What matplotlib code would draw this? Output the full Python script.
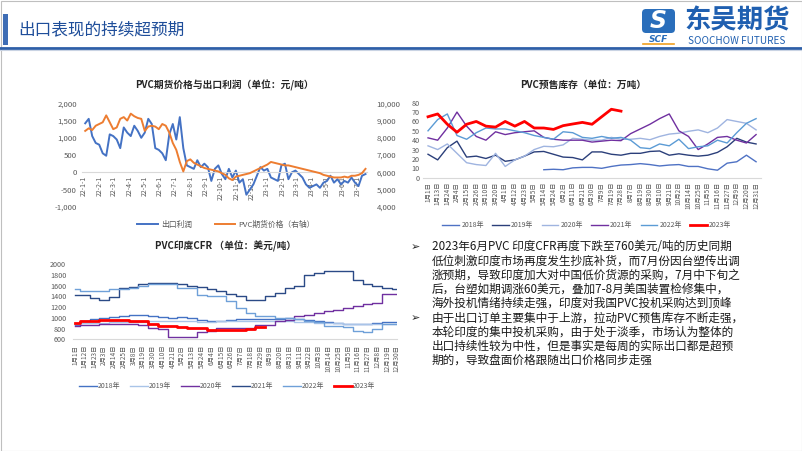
import numpy as np
import pandas as pd
import matplotlib
matplotlib.use('Agg')
import matplotlib.pyplot as plt
from matplotlib.ticker import FuncFormatter
from matplotlib.patches import Rectangle, FancyBboxPatch

plt.rcParams['font.family'] = ['Noto Sans CJK SC', 'DejaVu Sans']
plt.rcParams['axes.unicode_minus'] = False

# ---------------- data ----------------
# Chart 1: weekly, from 2022-01-03
profit = [1420, 1550, 1050, 850, 800, 550, 480, 1100, 1050, 950,
          700, 1300, 1150, 1050, 1350, 1200, 1000, 1150, 1550, 1400,
          700, 650, 550, 350, 1100, 1400, 950, 1600, 700, 200,
          150, 100, 350, 150, 250, 150, -250, 100, 200, -50,
          -200, 100, -150, 50, -300, -200, -650, -500, -350, -100,
          150, 50, 100, -150, -200, -250, 200, 250, -200, 0,
          50, -50, -150, -350, -450, -400, -350, -450, -300, -250,
          -100, -300, -200, -350, -250, -300, -150, -300, -400, -100, -50]
futures = [8400, 8550, 8450, 8700, 8800, 8900, 9300, 8900, 8500, 8600,
           9100, 9200, 9000, 9400, 9250, 9150, 9100, 8400, 8650, 8700,
           8650, 8500, 8800, 8700, 8300, 7700, 7300, 6600, 6050, 6650,
           6750, 6550, 6450, 6350, 6250, 6200, 6150, 6100, 6050, 5950,
           5850, 5650, 5550, 5750, 5800, 5850, 5900, 5950, 6050, 6150,
           6250, 6350, 6450, 6600, 6550, 6500, 6450, 6400, 6400, 6350,
           6300, 6250, 6200, 6150, 6100, 6050, 6000, 5950, 5850, 5800,
           5750, 5700, 5700, 5700, 5750, 5700, 5800, 5800, 5850, 5950, 6200]
weeks = pd.date_range('2022-01-03', periods=len(profit), freq='7D')
month_ticks = pd.date_range('2022-01-01', '2023-07-01', freq='MS')
month_labels = [f"{d.year % 100}-{d.month}-1" for d in month_ticks]

# Chart 2: PVC presale inventory (10k t)
inv_labels = ['1月1日', '1月13日', '1月24日', '2月4日', '2月15日', '2月26日', '3月10日', '3月20日',
              '4月1日', '4月12日', '4月23日', '5月5日', '5月14日', '5月24日', '6月2日', '6月11日',
              '6月21日', '6月30日', '7月9日', '7月19日', '7月28日', '8月7日', '8月19日', '8月30日',
              '9月10日', '9月21日', '10月2日', '10月14日', '10月25日', '11月5日', '11月16日',
              '11月27日', '12月9日', '12月20日', '12月31日']
nan = np.nan
inv2018 = [nan] * 12 + [8.5, 9, 8.5, 10.5, 11, 11, 10, 12, 13.5, 14, 15, 14, 12.5, 13.5, 14, 12,
                        12, 9.5, 8, 15.5, 17, 24, 17]
inv2019 = [25, 19, 32, 39, 22, 23, 20.5, 24, 17.5, 19, 23, 27.5, 28, 25, 22, 21.5, 19, 27.5,
           27.5, 25, 24, 26, 26, 28, 28.5, 24, 25.5, 24, 23, 24, 27, 33, 42, 38, 36]
inv2020 = [34, 30, 36, 26, 16, 14, 13, 26, 12, 19, 23, 30, 33.5, 33, 35, 42, 41, 40, 40, 43,
           41, 41, 42, 40.5, 44, 46.5, 47.5, 49.5, 51, 48, 53, 62, 60, 58, 51]
inv2021 = [42.5, 40, 53, 70, 55, 44, 40, 49, 46, 48, 49, 50, 43, 41, 40, 40, 40, 38, 39, 40,
           39.5, 47, 52, 57, 63, 68, 50, 44, 30, 36, 43, 44, 40, 37, 46]
inv2022 = [50, 62, 68, 45, 41, 48, 53, 52, 52, 50, 48, 45, 43, 41, 49, 48, 43, 42, 44, 42,
           43, 40, 32, 31, 36, 34, 41, 31, 33, 34, 40, 37, 48, 58, 63]
inv2023 = [65, 68, 57, 48.5, 57, 60, 55, 54, 60, 55, 60, 53, 53, 51.5, 55.5, 57.3, 59, 57,
           65, 73, 71] + [nan] * 14

# Chart 3: PVC India CFR (USD/t)
cfr_labels = ['1月1日', '1月12日', '1月23日', '2月3日', '2月14日', '2月25日', '3月8日', '3月19日',
              '3月30日', '4月10日', '4月21日', '5月2日', '5月13日', '5月24日', '6月4日', '6月15日',
              '6月26日', '7月7日', '7月18日', '7月29日', '8月9日', '8月20日', '8月31日', '9月11日',
              '9月22日', '10月3日', '10月14日', '10月25日', '11月5日', '11月16日', '11月27日',
              '12月8日', '12月19日', '12月30日']
cfr2018 = [870, 950, 980, 1000, 1010, 1040, 1045, 1045, 1040, 1020, 1000, 1010, 990, 960, 940,
           950, 960, 970, 975, 980, 985, 985, 990, 980, 960, 940, 920, 900, 880, 880, 890, 900,
           920, 920]
cfr2019 = [880, 900, 910, 910, 920, 920, 930, 930, 940, 950, 950, 950, 940, 930, 930, 940, 950,
           950, 950, 950, 950, 945, 940, 930, 920, 910, 900, 900, 890, 890, 880, 880, 880, 880]
cfr2020 = [850, 865, 875, 880, 885, 885, 880, 860, 820, 790, 650, 650, 650, 730, 760, 810, 810,
           815, 820, 860, 873, 935, 960, 1029, 1050, 1091, 1122, 1150, 1184, 1215, 1250, 1280,
           1450, 1440]
cfr2021 = [1434, 1420, 1371, 1327, 1390, 1550, 1570, 1630, 1657, 1657, 1657, 1640, 1600, 1570,
           1530, 1500, 1450, 1400, 1340, 1340, 1400, 1470, 1550, 1600, 1800, 1840, 1880, 1880,
           1880, 1700, 1640, 1600, 1560, 1545]
cfr2022 = [1545, 1500, 1500, 1500, 1530, 1540, 1560, 1590, 1640, 1640, 1640, 1560, 1550, 1420,
           1410, 1400, 1320, 1180, 1090, 1030, 1030, 1000, 990, 980, 950, 920, 845, 840, 835,
           760, 740, 800, 880, 880]
cfr2023 = [905, 940, 950, 960, 960, 955, 950, 935, 880, 845, 840, 830, 820, 810, 780, 765, 765,
           780, 800, 830] + [nan] * 14

years = ['2018年', '2019年', '2020年', '2021年', '2022年', '2023年']

bullets = [
    ["2023年6月PVC 印度CFR再度下跌至760美元/吨的历史同期",
     "低位刺激印度市场再度发生抄底补货，而7月份因台塑传出调",
     "涨预期，导致印度加大对中国低价货源的采购，7月中下旬之",
     "后，台塑如期调涨60美元，叠加7-8月美国装置检修集中，",
     "海外投机情绪持续走强，印度对我国PVC投机采购达到顶峰"],
    ["由于出口订单主要集中于上游，拉动PVC预售库存不断走强，",
     "本轮印度的集中投机采购，由于处于淡季，市场认为整体的",
     "出口持续性较为中性，但是事实是每周的实际出口都是超预",
     "期的，导致盘面价格跟随出口价格同步走强"],
]

# ---------------- figure ----------------
W, H = 802, 451
fig = plt.figure(figsize=(W / 100, H / 100), dpi=100)
GRAY = '#595959'
AXC = '#D9D9D9'


def add_px(l, t, r, b):
    return fig.add_axes([l / W, 1 - b / H, (r - l) / W, (b - t) / H])


def fig_pt(x, y):
    return (x / W, 1 - y / H)


bg = add_px(0, 0, W, H)
bg.set_xlim(0, W)
bg.set_ylim(H, 0)
bg.axis('off')
bg.set_zorder(-5)

# frame and header
bg.add_patch(Rectangle((0.5, 0.5), W - 1, H - 1, fill=False, ec='#BFBFBF', lw=0.8))
bg.add_patch(Rectangle((3, 14), 5, 31, color='#3E6DB5', lw=0))
bg.text(18, 30, '出口表现的持续超预期', fontsize=12, color='#1F4E9A', va='center', ha='left')
bg.plot([0, W], [47.5, 47.5], color='#2E5FA8', lw=2.0)
bg.plot([0, W], [49.5, 49.5], color='#C9D3E3', lw=0.8)
# logo
bg.add_patch(FancyBboxPatch((642, 9), 33, 24, boxstyle='round,pad=0,rounding_size=4',
                            color='#2A6EBB', lw=0))
bg.text(658.5, 21.5, 'S', fontsize=17, color='white', fontweight='bold', style='italic',
        ha='center', va='center', family='DejaVu Sans')
bg.text(658.5, 39.5, 'SCF', fontsize=6.5, color='#2A6EBB', fontweight='bold', style='italic',
        ha='center', va='center', family='DejaVu Sans')
bg.plot([643, 674], [44.2, 44.2], color='#F0A020', lw=1.2)
bg.text(737, 21, '东吴期货', fontsize=19, color='#1F5FB0', fontweight='bold',
        ha='center', va='center')
bg.text(737, 40.5, 'SOOCHOW FUTURES', fontsize=7.2, color='#1F5FB0',
        ha='center', va='center')

# ---------------- chart 1 ----------------
bg.text(224, 85, 'PVC期货价格与出口利润（单位：元/吨）', fontsize=7, fontweight='bold',
        color='#262626', ha='center', va='center')
ax1 = add_px(81.7, 103.3, 367, 206.8)
l1, = ax1.plot(weeks, profit, color='#4472C4', lw=1.4, label='出口利润')
ax1b = ax1.twinx()
l2, = ax1b.plot(weeks, futures, color='#ED7D31', lw=1.4, label='PVC期货价格（右轴）')
ax1.set_ylim(-1000, 2000)
ax1.set_yticks(np.arange(-1000, 2001, 500))
ax1.yaxis.set_major_formatter(FuncFormatter(lambda v, p: f"{v:,.0f}"))
ax1.set_xlim(pd.Timestamp('2021-12-27'), pd.Timestamp('2023-07-20'))
ax1.set_xticks(month_ticks)
ax1.set_xticklabels(month_labels)
for s in ['top', 'right', 'left']:
    ax1.spines[s].set_visible(False)
ax1.spines['bottom'].set_position(('data', 0))
ax1.spines['bottom'].set_color(AXC)
ax1.tick_params(axis='y', length=0, labelsize=5.6, labelcolor=GRAY, pad=3.5)
ax1.tick_params(axis='x', length=0, labelsize=5.0, labelcolor=GRAY, pad=2.5,
                labelrotation=90)
ax1.patch.set_alpha(0)
ax1b.set_ylim(4000, 10000)
ax1b.set_yticks(np.arange(4000, 10001, 1000))
ax1b.yaxis.set_major_formatter(FuncFormatter(lambda v, p: f"{v:,.0f}"))
for s in ax1b.spines.values():
    s.set_visible(False)
ax1b.tick_params(axis='y', length=0, labelsize=5.6, labelcolor=GRAY, pad=7)
for lab in ax1.get_xticklabels():
    lab.set_rotation(90)
fig.legend(handles=[l1, l2], loc='center', bbox_to_anchor=fig_pt(226, 225), ncol=2,
           frameon=False, fontsize=5.6, labelcolor=GRAY, handlelength=2.6,
           columnspacing=3.0, handletextpad=0.4)

# ---------------- chart 2 ----------------
bg.text(583, 85, 'PVC预售库存（单位：万吨）', fontsize=7, fontweight='bold',
        color='#262626', ha='center', va='center')
ax2 = add_px(423.2, 102.7, 760.9, 177.7)
xi = np.arange(len(inv_labels))
inv_colors = ['#4F72C4', '#2B3F7A', '#9FB4E0', '#7030A0', '#5B9BD5', '#FF0000']
inv_series = [inv2018, inv2019, inv2020, inv2021, inv2022, inv2023]
h2 = []
for yl, col, ser in zip(years, inv_colors, inv_series):
    lw = 2.0 if yl == '2023年' else 1.0
    ln, = ax2.plot(xi, ser, color=col, lw=lw, label=yl, zorder=3 if yl == '2023年' else 2)
    h2.append(ln)
ax2.set_ylim(0, 80)
ax2.set_yticks(np.arange(0, 81, 10))
ax2.set_xlim(-0.5, 34.5)
ax2.set_xticks(xi)
ax2.set_xticklabels(inv_labels, rotation=90)
for s in ['top', 'right', 'left']:
    ax2.spines[s].set_visible(False)
ax2.spines['bottom'].set_color(AXC)
ax2.tick_params(axis='y', length=0, labelsize=5.2, labelcolor=GRAY, pad=2.5)
ax2.tick_params(axis='x', length=0, labelsize=4.6, labelcolor=GRAY, pad=3)
ax2.patch.set_alpha(0)
fig.legend(handles=h2, loc='center', bbox_to_anchor=fig_pt(587, 225), ncol=6,
           frameon=False, fontsize=5.0, labelcolor=GRAY, handlelength=2.4,
           columnspacing=1.2, handletextpad=0.3)

# ---------------- chart 3 ----------------
bg.text(226, 246, 'PVC印度CFR （单位：美元/吨）', fontsize=7, fontweight='bold',
        color='#262626', ha='center', va='center')
ax3 = add_px(73.05, 264.3, 397.2, 339.3)
xc = np.arange(len(cfr_labels))
cfr_colors = ['#4472C4', '#A9C4E8', '#7030A0', '#2B4A86', '#6FA0D8', '#FF0000']
cfr_series = [cfr2018, cfr2019, cfr2020, cfr2021, cfr2022, cfr2023]
h3 = []
for yl, col, ser in zip(years, cfr_colors, cfr_series):
    lw = 2.0 if yl == '2023年' else 1.0
    ln, = ax3.plot(xc, ser, color=col, lw=lw, label=yl, drawstyle='steps-mid',
                   zorder=3 if yl == '2023年' else 2)
    h3.append(ln)
ax3.set_ylim(600, 2000)
ax3.set_yticks(np.arange(600, 2001, 200))
ax3.set_xlim(-0.2, 33.05)
ax3.set_xticks(xc)
ax3.set_xticklabels(cfr_labels, rotation=90)
for s in ['top', 'right', 'left']:
    ax3.spines[s].set_visible(False)
ax3.spines['bottom'].set_color(AXC)
ax3.tick_params(axis='y', length=0, labelsize=5.2, labelcolor=GRAY, pad=5)
ax3.tick_params(axis='x', length=0, labelsize=4.6, labelcolor=GRAY, pad=4)
ax3.patch.set_alpha(0)
fig.legend(handles=h3, loc='center', bbox_to_anchor=fig_pt(227, 386), ncol=6,
           frameon=False, fontsize=5.0, labelcolor=GRAY, handlelength=2.6,
           columnspacing=1.3, handletextpad=0.2)

# ---------------- text block ----------------
y = 246.7
step = 14.2
for para in bullets:
    bg.text(415, y, '➢', fontsize=8, color='#262626', ha='center', va='center',
            family=['DejaVu Sans'])
    for line in para:
        bg.text(431.7, y, line, fontsize=8.4, color='#1A1A1A', ha='left', va='center')
        y += step

fig.savefig('out.png', dpi=100)
